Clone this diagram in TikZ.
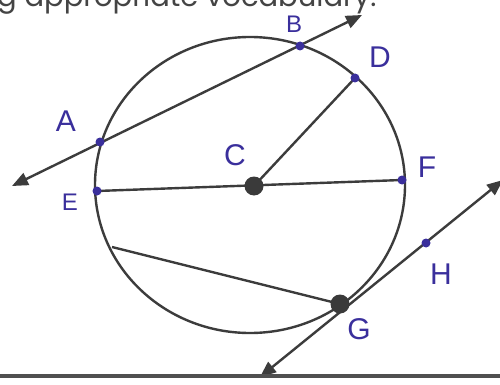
\documentclass[tikz,border=0pt]{standalone}
\usepackage{fontspec}
\newfontfamily\topfont{Poppins}
\newfontfamily\handfont{Liberation Sans}
\usetikzlibrary{arrows.meta}
\definecolor{linegray}{HTML}{3C3C3C}
\definecolor{dotgray}{HTML}{3A3A3A}
\definecolor{penblue}{HTML}{3A2F9C}
\definecolor{textgray}{HTML}{444444}
\begin{document}
\begin{tikzpicture}[x=1pt,y=-1pt,
  ln/.style={draw=linegray, line width=2.4pt},
  arr/.style={ln, {Triangle[length=16pt,width=13pt]}-{Triangle[length=16pt,width=13pt]}},
  pnt/.style={circle, fill=penblue, inner sep=0pt, minimum size=9pt},
  bigpnt/.style={circle, fill=dotgray, inner sep=0pt, minimum size=19pt},
  lab/.style={text=penblue, inner sep=0pt, font=\handfont\fontsize{30}{30}\selectfont}]
\useasboundingbox (0,0) rectangle (500,385);
\clip (0,0) rectangle (500,385);
\fill[white] (0,0) rectangle (500,385);
% top text
\node[anchor=base west, inner sep=0pt, text=textgray, font=\topfont\fontsize{29}{29}\selectfont] (title) at (-3,7) {g appropriate vocabulary.};
% coordinates
\coordinate (Cc) at (250,185);
\coordinate (A) at (100,142);
\coordinate (B) at (300,46);
\coordinate (D) at (355,78);
\coordinate (E) at (97,191);
\coordinate (F) at (402,180);
\coordinate (C) at (254,186);
\coordinate (G) at (340,304);
\coordinate (H) at (426,243);
\coordinate (K) at (112,247);
\coordinate (ABl) at (12,186);
\coordinate (ABr) at (362,15);
\coordinate (GHl) at (260,377);
\coordinate (GHr) at (503,180);
\coordinate (b1) at (0,376);
\coordinate (b2) at (500,376);
% circle
\draw[ln] (Cc) ellipse [x radius=155, y radius=148];
% lines
\draw[arr] (ABl) -- (ABr);
\draw[ln] (C) -- (D);
\draw[ln] (E) -- (F);
\draw[ln] (K) -- (G);
\draw[arr] (GHl) -- (GHr);
\draw[line width=4.5pt, draw=linegray!90] (b1) -- (b2);
% points
\node[pnt] (pA) at (A) {};
\node[pnt] (pB) at (B) {};
\node[pnt] (pD) at (D) {};
\node[pnt] (pE) at (E) {};
\node[pnt] (pF) at (F) {};
\node[pnt] (pH) at (H) {};
\node[bigpnt] (pC) at (C) {};
\node[bigpnt] (pG) at (G) {};
% labels
\node[lab] (lA) at (66,121) {A};
\node[lab, font=\handfont\fontsize{24}{24}\selectfont] (lB) at (294,24) {B};
\node[lab] (lC) at (235,155) {C};
\node[lab] (lD) at (380,57) {D};
\node[lab, font=\handfont\fontsize{24}{24}\selectfont] (lE) at (70,202) {E};
\node[lab] (lF) at (427,167) {F};
\node[lab] (lG) at (359,329) {G};
\node[lab] (lH) at (441,274) {H};
\end{tikzpicture}
\end{document}
